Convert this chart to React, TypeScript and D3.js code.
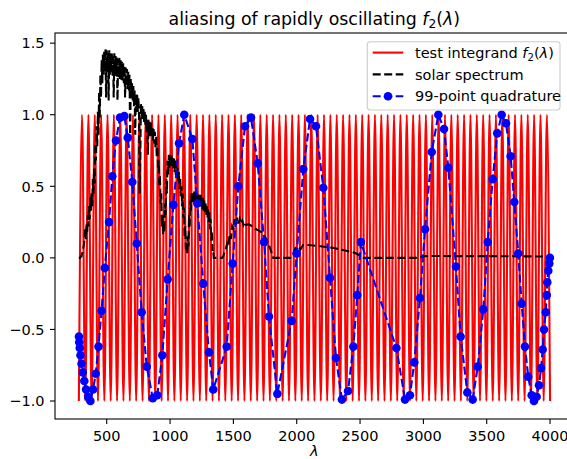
import React from "react";
import * as d3 from "d3";

// red test integrand: one sample every grid step from 280 to 4000 nm
const integrandStart = 280;
const integrandEnd = 4000;
const integrandValues = [
  -1, 1, -1, 1, -1, 1, -1, 1, -1, 1, -1, 1, -1, 1, -1, 1, -1, 1, -1, 1,
  -1, 1, -1, 1, -1, 1, -1, 1, -1, 1, -1, 1, -1, 1, -1, 1, -1, 1, -1, 1,
  -1, 1, -1, 1, -1, 1, -1, 1, -1, 1, -1, 1, -1, 1, -1, 1, -1, 1, -1, 1,
  -1, 1, -1, 1, -1, 1, -1, 1, -1, 1, -1, 1, -1, 1, -1, 1, -1, 1, -1, 1,
  -1, 1, -1, 1, -1, 1, -1, 1, -1, 1, -1, 1, -1, 1, -1, 1, -1, 1, -1, 1,
  -1, 1, -1, 1, -1, 1, -1, 1, -1, 1, -1, 1, -1, 1, -1, 1, -1, 1, -1, 1,
  -1, 1, -1, 1, -1, 1, -1, 1, -1, 1, -1, 1, -1, 1, -1, 1, -1, 1, -1, 1,
  -1, 1, -1, 1, -1, 1, -1, 1, -1,
];

// solar spectrum (black dashed), noisy part sampled every 5 nm
const solarLambda = [
  280, 285, 290, 295, 300, 305, 310, 315, 320, 325,
  330, 335, 340, 345, 350, 355, 360, 365, 370, 375,
  380, 385, 390, 395, 400, 405, 410, 415, 420, 425,
  430, 435, 440, 445, 450, 455, 460, 465, 470, 475,
  480, 485, 490, 495, 500, 505, 510, 515, 520, 525,
  530, 535, 540, 545, 550, 555, 560, 565, 570, 575,
  580, 585, 590, 595, 600, 605, 610, 615, 620, 625,
  630, 635, 640, 645, 650, 655, 660, 665, 670, 675,
  680, 685, 690, 695, 700, 705, 710, 715, 720, 725,
  730, 735, 740, 745, 750, 755, 760, 765, 770, 775,
  780, 785, 790, 795, 800, 805, 810, 815, 820, 825,
  830, 835, 840, 845, 850, 855, 860, 865, 870, 875,
  880, 885, 890, 895, 900, 905, 910, 915, 920, 925,
  930, 935, 940, 945, 950, 955, 960, 965, 970, 975,
  980, 985, 990, 995, 1000, 1005, 1010, 1015, 1020, 1025,
  1030, 1035, 1040, 1045, 1050, 1055, 1060, 1065, 1070, 1075,
  1080, 1085, 1090, 1095, 1100, 1105, 1110, 1115, 1120, 1125,
  1130, 1135, 1140, 1145, 1150, 1155, 1160, 1165, 1170, 1175,
  1180, 1185, 1190, 1195, 1200, 1205, 1210, 1215, 1220, 1225,
  1230, 1235, 1240, 1245, 1250, 1255, 1260, 1265, 1270, 1275,
  1280, 1285, 1290, 1295, 1300, 1305, 1310, 1315, 1320, 1325,
  1330, 1335, 1340, 1345, 1350,
  1360, 1370, 1380, 1390, 1400, 1410, 1420, 1430, 1440, 1450,
  1460, 1470, 1480, 1490, 1500, 1510, 1520, 1530, 1540, 1550,
  1560, 1570, 1580, 1590, 1600, 1620, 1640, 1660, 1680, 1700,
  1720, 1740, 1760, 1780, 1800, 1815, 1850, 1900, 1950, 1970,
  1990, 2010, 2030, 2050, 2080, 2110, 2150, 2200, 2250, 2300,
  2350, 2400, 2440, 2470, 2500, 2530, 2600, 2700, 2800, 2900,
  2950, 3000, 3100, 3300, 3500, 3700, 3900, 4000,
];
const solarValue = [
  0.0, 0.0, 0.0, 0.01, 0.01, 0.03, 0.04, 0.07, 0.09, 0.14,
  0.2, 0.13, 0.24, 0.17, 0.3, 0.22, 0.36, 0.27, 0.42, 0.33,
  0.46, 0.36, 0.55, 0.44, 0.62, 0.52, 0.8, 0.68, 0.92, 0.78,
  1.02, 0.86, 1.16, 0.98, 1.28, 1.12, 1.38, 1.22, 1.42, 1.28,
  1.44, 1.3, 1.46, 1.12, 1.45, 1.3, 1.44, 1.1, 1.45, 1.28,
  1.43, 1.3, 1.44, 1.27, 1.42, 1.12, 1.43, 1.29, 1.41, 1.27,
  1.4, 1.1, 1.39, 1.26, 1.4, 1.25, 1.38, 1.24, 1.37, 1.24,
  1.36, 1.22, 1.34, 1.12, 1.33, 1.2, 1.32, 1.18, 1.3, 1.17,
  1.28, 0.82, 1.25, 1.12, 1.22, 1.1, 1.2, 1.06, 1.17, 0.86,
  1.15, 1.02, 1.14, 1.02, 1.12, 1.0, 0.45, 0.7, 1.08, 0.98,
  1.06, 0.97, 1.04, 0.95, 1.02, 0.93, 1.0, 0.88, 0.96, 0.72,
  0.97, 0.86, 0.95, 0.85, 0.94, 0.84, 0.92, 0.82, 0.9, 0.8,
  0.88, 0.76, 0.85, 0.7, 0.78, 0.62, 0.68, 0.5, 0.58, 0.38,
  0.45, 0.22, 0.3, 0.16, 0.25, 0.18, 0.38, 0.3, 0.55, 0.45,
  0.68, 0.58, 0.72, 0.63, 0.73, 0.64, 0.72, 0.64, 0.71, 0.62,
  0.7, 0.6, 0.68, 0.58, 0.66, 0.56, 0.63, 0.53, 0.6, 0.48,
  0.55, 0.43, 0.5, 0.36, 0.45, 0.28, 0.35, 0.15, 0.22, 0.06,
  0.1, 0.03, 0.15, 0.08, 0.3, 0.22, 0.4, 0.33, 0.46, 0.38,
  0.46, 0.38, 0.47, 0.39, 0.46, 0.38, 0.46, 0.37, 0.45, 0.37,
  0.45, 0.36, 0.44, 0.36, 0.43, 0.34, 0.42, 0.33, 0.4, 0.32,
  0.39, 0.3, 0.37, 0.28, 0.35, 0.25, 0.32, 0.2, 0.27, 0.12,
  0.18, 0.05, 0.06, 0.0, 0.0,
  0.0, 0.0, 0.0, 0.0, 0.0, 0.0, 0.01, 0.04, 0.06, 0.1,
  0.08, 0.16, 0.13, 0.22, 0.2, 0.27, 0.23, 0.28, 0.24, 0.27,
  0.24, 0.26, 0.23, 0.25, 0.23, 0.235, 0.225, 0.21, 0.2, 0.19,
  0.18, 0.16, 0.13, 0.09, 0.04, 0.0, 0.0, 0.0, 0.0, 0.02,
  0.07, 0.08, 0.06, 0.09, 0.09, 0.088, 0.085, 0.08, 0.075, 0.068,
  0.058, 0.048, 0.04, 0.03, 0.015, 0.0, 0.0, 0.0, 0.0, 0.0,
  0.0, 0.012, 0.013, 0.012, 0.012, 0.011, 0.01, 0.01,
];

// 99-point quadrature nodes and f2 values there (blue)
const quadLambda = [
  281, 283, 287, 293, 301, 311, 323, 337, 353, 371, 392, 413, 435, 459, 485,
  518, 544, 573, 605, 639, 666, 702, 737, 776, 816, 863, 899, 939, 981, 1026,
  1071, 1112, 1176, 1215, 1262, 1307, 1341, 1447, 1494, 1539, 1592, 1639, 1692, 1742,
  1781, 1847, 1960, 2000, 2052, 2105, 2152, 2210, 2263, 2310, 2357, 2405, 2447, 2478, 2507,
  2787, 2855, 2894, 2928, 2973, 3013, 3066, 3118, 3163, 3197, 3257, 3294, 3347, 3389, 3429,
  3473, 3508, 3547, 3583, 3618, 3652, 3689, 3718, 3749, 3776, 3802, 3828, 3855, 3873, 3894,
  3913, 3929, 3942, 3952, 3966, 3974, 3978, 3986, 3994, 3999,
];
const quadValue = [
  -0.55, -0.59, -0.63, -0.68, -0.74, -0.8, -0.86, -0.92, -0.97, -1.0, -0.92, -0.81, -0.62, -0.37, -0.07,
  0.25, 0.57, 0.82, 0.98, 0.99, 0.84, 0.53, 0.1, -0.38, -0.76, -0.98, -0.96, -0.68, -0.15, 0.37,
  0.8, 1.0, 0.83, 0.38, -0.18, -0.66, -0.92, -0.62, -0.04, 0.5, 0.92, 0.98, 0.66, 0.11,
  -0.41, -0.95, -0.44, 0.03, 0.62, 0.97, 0.92, 0.49, -0.14, -0.7, -0.99, -0.93, -0.62, -0.26, 0.11,
  -0.63, -0.99, -0.96, -0.73, -0.28, 0.2, 0.74, 1.0, 0.9, 0.63, -0.06, -0.55, -0.94, -0.99, -0.76,
  -0.36, 0.11, 0.55, 0.87, 1.0, 0.94, 0.71, 0.39, 0.03, -0.32, -0.62, -0.83, -0.96, -1.0, -0.97,
  -0.89, -0.77, -0.64, -0.5, -0.38, -0.26, -0.17, -0.09, -0.04, 0.0,
];

const xTicks = [500, 1000, 1500, 2000, 2500, 3000, 3500, 4000];
const yTicks = [-1.0, -0.5, 0.0, 0.5, 1.0, 1.5];

const W = 567;
const H = 459;
const left = 55;
const right = 573.6;
const top = 33;
const bottom = 419;
const font = "DejaVu Sans, sans-serif";
const lw = 2.1;
const dash = "8,3.5";

function F2Lambda({ size }: { size: number }) {
  return (
    <>
      <tspan fontStyle="italic">f</tspan>
      <tspan fontSize={size * 0.7} dy={size * 0.22}>2</tspan>
      <tspan dy={-size * 0.22}>(</tspan>
      <tspan fontStyle="italic">λ</tspan>
      <tspan>)</tspan>
    </>
  );
}

export default function App() {
  const x = d3.scaleLinear().domain([91.6, 4186]).range([left, right]);
  const y = d3.scaleLinear().domain([-1.1257, 1.571]).range([bottom, top]);

  const grid = d3
    .scaleLinear()
    .domain([0, integrandValues.length - 1])
    .range([integrandStart, integrandEnd]);

  const line = d3
    .line<[number, number]>()
    .x((d) => x(d[0]))
    .y((d) => y(d[1]));

  // smooth crests through the samples
  const redPath = line.curve(d3.curveMonotoneX)(integrandValues.map((v, i) => [grid(i), v]));
  line.curve(d3.curveLinear);
  const solarPath = line(solarLambda.map((l, i) => [l, solarValue[i]]));
  const quadPts: [number, number][] = quadLambda.map((l, i) => [l, quadValue[i]]);
  const quadPath = line(quadPts);

  // legend geometry
  const lgX = 367.3;
  const lgY = 41.7;
  const rows = [52.6, 74.4, 96.2];
  const h0 = 372.7;
  const h1 = 403.3;

  return (
    <svg
      width={W}
      height={H}
      style={{ position: "absolute", left: 0, top: 0, background: "#fff" }}
      fontFamily={font}
    >
      <defs>
        <clipPath id="plot">
          <rect x={left} y={top} width={right - left} height={bottom - top} />
        </clipPath>
      </defs>

      <g clipPath="url(#plot)">
        <path d={redPath ?? ""} fill="none" stroke="#ff0000" strokeWidth={lw} />
        <path d={solarPath ?? ""} fill="none" stroke="#000" strokeWidth={lw} strokeDasharray={dash} />
        <path d={quadPath ?? ""} fill="none" stroke="#0000ff" strokeWidth={lw} strokeDasharray={dash} />
        {quadPts.map((d, i) => (
          <circle key={i} cx={x(d[0])} cy={y(d[1])} r={4.3} fill="#0000ff" />
        ))}
      </g>

      {/* spines */}
      <rect x={left} y={top} width={right - left} height={bottom - top} fill="none" stroke="#000" strokeWidth={1.1} />

      {/* x axis */}
      {xTicks.map((t) => (
        <g key={t}>
          <line x1={x(t)} x2={x(t)} y1={bottom} y2={bottom + 5} stroke="#000" strokeWidth={1.1} />
          <text x={x(t)} y={440.5} textAnchor="middle" fontSize={14.5}>
            {t}
          </text>
        </g>
      ))}
      <text x={(left + right) / 2} y={456} textAnchor="middle" fontSize={14.5} fontStyle="italic">
        λ
      </text>

      {/* y axis */}
      {yTicks.map((t) => (
        <g key={t}>
          <line x1={left - 5} x2={left} y1={y(t)} y2={y(t)} stroke="#000" strokeWidth={1.1} />
          <text x={44.5} y={y(t) + 5.2} textAnchor="end" fontSize={14.5}>
            {d3.format(".1f")(t).replace("-", "−")}
          </text>
        </g>
      ))}

      {/* title */}
      <text x={(left + right) / 2} y={24.5} textAnchor="middle" fontSize={17.4}>
        {"aliasing of rapidly oscillating "}
        <F2Lambda size={17.4} />
      </text>

      {/* legend */}
      <rect x={lgX} y={lgY} width={560 - lgX} height={110 - lgY} rx={2.9} fill="#fff" fillOpacity={0.8} stroke="#cccccc" strokeWidth={1.1} />
      <line x1={h0} x2={h1} y1={rows[0]} y2={rows[0]} stroke="#ff0000" strokeWidth={lw} />
      <line x1={h0} x2={h1} y1={rows[1]} y2={rows[1]} stroke="#000" strokeWidth={lw} strokeDasharray={dash} />
      <line x1={h0} x2={h1} y1={rows[2]} y2={rows[2]} stroke="#0000ff" strokeWidth={lw} strokeDasharray={dash} />
      <circle cx={(h0 + h1) / 2} cy={rows[2]} r={4.3} fill="#0000ff" />
      <text x={415} y={rows[0] + 5.2} fontSize={14.5}>
        {"test integrand "}
        <F2Lambda size={14.5} />
      </text>
      <text x={415} y={rows[1] + 5.2} fontSize={14.5}>
        solar spectrum
      </text>
      <text x={415} y={rows[2] + 5.2} fontSize={14.5}>
        99-point quadrature
      </text>
    </svg>
  );
}
